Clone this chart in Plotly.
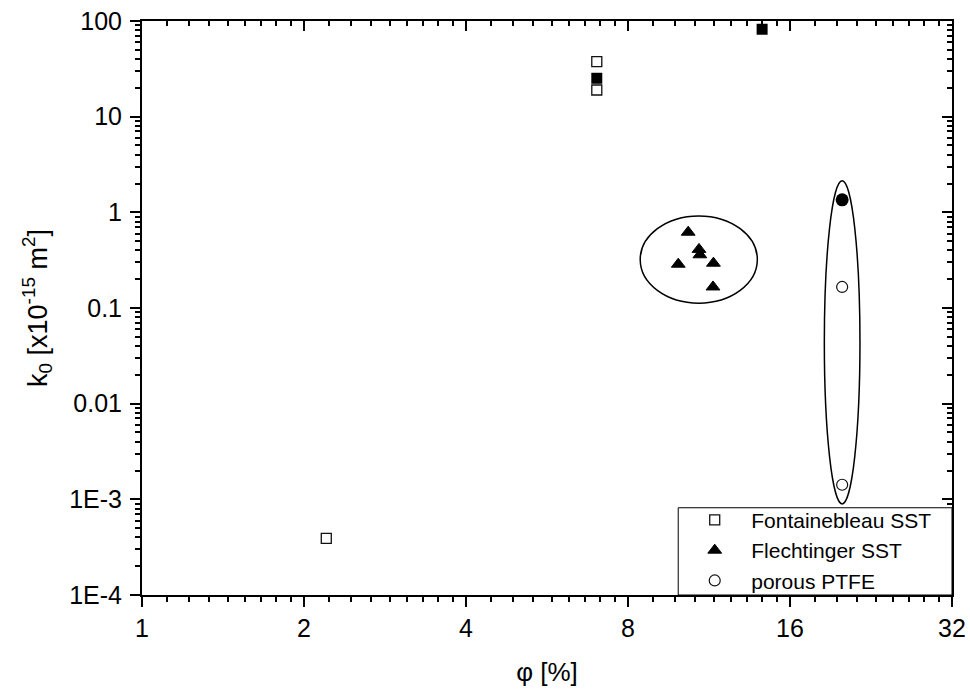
import numpy as np
import plotly.graph_objects as go

# Porosity phi [%] and permeability k0 [x10^-15 m^2]
fb_phi = [2.2, 7.0, 7.0]
fb_k = [3.9e-4, 37.6, 19.0]
fb_solid_phi = [7.0, 14.2]
fb_solid_k = [25.2, 82.0]

fl_phi = [10.35, 10.84, 10.88, 9.92, 11.53, 11.51]
fl_k = [0.62, 0.41, 0.36, 0.287, 0.294, 0.166]

ptfe_phi = [20.0, 20.0]
ptfe_k = [0.166, 1.42e-3]
ptfe_solid_phi = [20.0]
ptfe_solid_k = [1.35]

x_ticks = [1, 2, 4, 8, 16, 32]
y_ticks = [1e-4, 1e-3, 1e-2, 1e-1, 1, 10, 100]
y_labels = ["1E-4", "1E-3", "0.01", "0.1", "1", "10", "100"]

FONT = "Arial, Liberation Sans, sans-serif"

# minor ticks: 8 per octave, evenly spaced in value; 2..9 per decade
x_minor = [b * (1 + k / 9) for b in x_ticks[:-1] for k in range(1, 9)]
y_minor = [d * 10.0 ** e for e in range(-4, 2) for d in range(2, 10)]

fig = go.Figure()

fig.add_trace(go.Scatter(
    x=fb_phi, y=fb_k, mode="markers", name="Fontainebleau SST",
    marker=dict(symbol="square-open", size=10, color="#111111", line=dict(width=1.3))))
fig.add_trace(go.Scatter(
    x=fl_phi, y=fl_k, mode="markers", name="Flechtinger SST",
    marker=dict(symbol="triangle-up", size=12, color="black", line=dict(width=1, color="black"))))
fig.add_trace(go.Scatter(
    x=ptfe_phi, y=ptfe_k, mode="markers", name="porous PTFE",
    marker=dict(symbol="circle-open", size=11, color="#111111", line=dict(width=1.2))))
fig.add_trace(go.Scatter(
    x=fb_solid_phi, y=fb_solid_k, mode="markers", showlegend=False,
    marker=dict(symbol="square", size=11, color="black")))
fig.add_trace(go.Scatter(
    x=ptfe_solid_phi, y=ptfe_solid_k, mode="markers", showlegend=False,
    marker=dict(symbol="circle", size=13, color="black")))
# carrier for the mirrored top/right axes
fig.add_trace(go.Scatter(
    x=fb_phi, y=fb_k, mode="markers", xaxis="x2", yaxis="y2", showlegend=False,
    hoverinfo="skip", marker=dict(opacity=0)))


def group_ellipse(xs, ys, pad_x, pad_y, shift_x=0.0):
    """Ellipse bounds around a group, padded in octaves (x) and decades (y)."""
    lx = np.log2(xs)
    ly = np.log10(ys)
    cx = (lx.min() + lx.max()) / 2 + shift_x
    hx = (lx.max() - lx.min()) / 2 + pad_x
    return dict(type="circle", xref="x", yref="y",
                x0=2 ** (cx - hx), x1=2 ** (cx + hx),
                y0=10 ** (ly.min() - pad_y), y1=10 ** (ly.max() + pad_y),
                line=dict(color="black", width=1.5), layer="above")


fig.add_shape(**group_ellipse(fl_phi, fl_k, 0.253, 0.17, 0.018))
fig.add_shape(**group_ellipse(ptfe_phi + ptfe_solid_phi, ptfe_k + ptfe_solid_k, 0.11, 0.2))

# legend frame in the lower right corner of the plot area
LEG_X0, LEG_Y1 = 0.662, 0.152
fig.add_shape(type="rect", xref="paper", yref="paper", x0=LEG_X0, x1=1, y0=0, y1=LEG_Y1,
              fillcolor="white", line=dict(color="black", width=1), layer="above")

xr = [0, np.log10(32)]
yr = [-4, 2]
axis_common = dict(showgrid=False, zeroline=False, color="black", automargin=False,
                   tickfont=dict(family=FONT, size=25, color="black"))

fig.update_layout(
    width=970, height=690,
    margin=dict(l=142, r=18, t=21, b=95),
    paper_bgcolor="white", plot_bgcolor="white",
    font=dict(family=FONT, size=21, color="black"),
    showlegend=True,
    legend=dict(x=LEG_X0, xanchor="left", y=LEG_Y1 + 0.014, yanchor="top",
                bgcolor="rgba(0,0,0,0)", borderwidth=0,
                font=dict(family=FONT, size=21, color="black"),
                itemwidth=63, tracegroupgap=0),
    xaxis=dict(type="log", range=xr, tickvals=x_ticks, ticktext=[str(v) for v in x_ticks],
               ticks="outside", ticklen=10, tickwidth=2, tickcolor="black",
               showline=True, linewidth=2, linecolor="black", mirror=True,
               minor=dict(tickvals=x_minor, ticks="outside", ticklen=5, tickwidth=1.5,
                          tickcolor="black"),
               title=dict(text="φ [%]", font=dict(family=FONT, size=26), standoff=22),
               **axis_common),
    yaxis=dict(type="log", range=yr, tickvals=y_ticks, ticktext=y_labels,
               ticks="outside", ticklen=10, tickwidth=2, tickcolor="black",
               showline=True, linewidth=2, linecolor="black", mirror=True,
               ticklabelstandoff=3,
               minor=dict(tickvals=y_minor, ticks="outside", ticklen=5, tickwidth=1.5,
                          tickcolor="black"),
               title=dict(text="k<sub>0</sub> [x10<sup>-15</sup> m<sup>2</sup>]",
                          font=dict(family=FONT, size=27), standoff=14),
               **axis_common),
    xaxis2=dict(type="log", range=xr, overlaying="x", side="top", tickvals=x_ticks,
                showticklabels=False, ticks="inside", ticklen=10, tickwidth=2,
                tickcolor="black", showline=False,
                minor=dict(tickvals=x_minor, ticks="inside", ticklen=5, tickwidth=1.5,
                           tickcolor="black"),
                showgrid=False, zeroline=False),
    yaxis2=dict(type="log", range=yr, overlaying="y", side="right", tickvals=y_ticks,
                showticklabels=False, ticks="inside", ticklen=10, tickwidth=2,
                tickcolor="black", showline=False,
                minor=dict(tickvals=y_minor, ticks="inside", ticklen=5, tickwidth=1.5,
                           tickcolor="black"),
                showgrid=False, zeroline=False),
)

fig.write_html("out.html")
